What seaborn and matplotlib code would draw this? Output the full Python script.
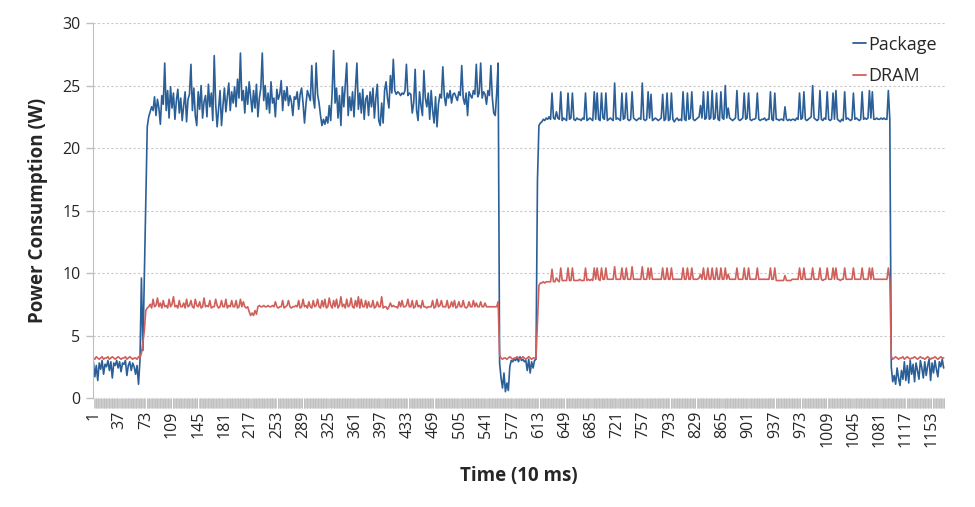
import numpy as np
import pandas as pd
import matplotlib
matplotlib.use('Agg')
import matplotlib.pyplot as plt
import seaborn as sns

# samples taken every 2nd time step (1, 3, 5, ... 1169)
pkg_idle = [2.9, 1.7, 2.6, 1.4, 2.8, 2.3, 3.0, 1.9, 2.7, 2.5, 3.0, 2.2, 2.9, 1.6, 2.8, 2.6, 3.0,
            2.4, 2.9, 2.1, 2.8, 2.7, 3.0, 1.8, 2.6, 2.9, 2.2, 2.8, 2.5, 1.9, 2.6, 1.1, 3.0]
pkg_ramp1 = [9.6, 3.8, 9.8, 15.7, 21.7]
pkg_run1 = [
    22.5, 22.9, 23.3, 23.0, 24.1, 22.6, 23.9, 23.2, 21.9, 24.2,
    23.5, 26.8, 23.0, 24.6, 22.4, 24.9, 23.2, 24.4, 22.3, 23.8,
    24.7, 22.8, 24.0, 22.2, 23.4, 24.5, 22.1, 23.9, 24.3, 26.7,
    23.0, 24.8, 22.6, 21.8, 24.5, 23.1, 25.0, 22.4, 23.7, 24.2,
    22.5, 25.1, 23.3, 24.4, 22.2, 27.4, 23.5, 21.7, 23.2, 24.6,
    21.8, 23.4, 24.8, 22.9, 24.1, 25.2, 23.0, 24.5, 23.6, 24.9,
    23.3, 25.5, 24.0, 27.6, 23.8, 24.6, 22.8, 24.9, 23.5, 25.3,
    24.1, 22.9, 24.6, 23.2, 25.1, 22.5, 24.0, 24.8, 27.6, 23.8,
    25.0, 23.1, 24.4, 22.8, 25.3, 23.6, 24.0, 22.5, 24.7, 23.9,
    24.3, 25.4, 23.0, 24.6, 23.8, 24.9, 23.4, 24.2, 23.7, 22.6,
    24.1, 23.9, 24.5, 23.1, 24.3, 24.8, 23.6, 22.0, 23.5, 24.6,
    24.2, 23.8, 26.6, 24.0, 23.2, 26.8, 24.3, 23.6, 22.6, 21.8,
    22.3, 21.9, 22.5, 22.0, 23.4, 22.2, 24.5, 27.8, 23.6, 24.8,
    22.4, 24.2, 21.8, 24.9, 23.3, 25.0, 26.8, 22.6, 24.1, 23.0,
    24.5, 22.5, 24.8, 26.8, 23.1, 24.4, 22.8, 24.7, 22.3, 23.9,
    24.2, 22.6, 24.5, 23.3, 24.8, 22.4, 24.0, 25.1, 22.2, 21.8,
    23.6, 22.0, 24.6, 25.3, 24.0, 23.2, 25.8, 24.4, 27.1, 24.6,
    24.3, 24.5, 24.4, 24.2, 24.4, 24.3, 24.6, 26.7, 24.2, 24.4,
    24.3, 22.8, 23.6, 26.3, 23.0, 22.2, 24.5, 23.4, 22.6, 26.2,
    24.0, 23.3, 24.4, 22.3, 24.6, 23.0, 22.0, 24.1, 21.7, 23.5,
    24.3, 24.0, 26.5, 24.2, 23.4, 24.4, 24.0, 24.6, 23.6, 24.3,
    24.4, 24.1, 23.8, 24.5, 24.2, 26.6, 24.0, 23.5, 24.4, 22.6,
    24.5, 24.2, 24.0, 24.6, 24.3, 26.7, 24.1, 24.4, 26.8, 24.0,
    24.5, 24.3, 23.5, 24.6, 24.2, 26.6, 24.0, 22.8, 22.6, 24.4,
    26.8]
pkg_gap = [2.8, 1.6, 0.8, 2.0, 0.5, 1.2, 0.6, 2.5, 3.0, 2.9, 3.1, 3.0, 3.2, 2.9, 3.3, 3.0,
           3.1, 2.9, 3.0, 2.2, 3.1, 2.0, 2.9, 2.4, 3.0, 3.1]
pkg_ramp2 = [17.4, 21.8]
pkg_run2 = [
    22.0, 22.1, 22.3, 22.2, 22.4, 22.3, 22.5, 22.3, 24.4, 22.4,
    22.3, 22.9, 22.4, 22.3, 24.5, 22.2, 22.4, 22.3, 22.2, 24.4,
    22.3, 22.4, 24.4, 22.3, 22.2, 22.4, 22.3, 22.3, 22.2, 22.4,
    22.3, 24.4, 22.2, 22.3, 22.4, 22.3, 22.2, 24.5, 22.3, 24.4,
    22.3, 22.2, 24.4, 22.4, 22.3, 24.4, 22.2, 22.3, 22.4, 22.3,
    22.2, 25.2, 22.3, 22.4, 22.3, 22.2, 24.4, 22.3, 22.4, 24.4,
    22.3, 22.2, 22.3, 24.5, 22.4, 22.3, 22.2, 22.3, 22.4, 22.3,
    25.2, 22.3, 22.2, 22.3, 24.5, 22.4, 24.3, 22.2, 22.3, 22.4,
    22.3, 22.2, 22.3, 22.4, 24.3, 22.2, 22.3, 24.4, 22.2, 22.3,
    24.4, 22.3, 22.1, 22.3, 22.4, 22.2, 22.3, 22.2, 24.5, 22.3,
    22.2, 24.4, 22.3, 22.4, 24.5, 22.3, 22.2, 22.3, 22.4, 22.5,
    23.4, 22.4, 24.5, 22.3, 22.4, 24.5, 22.3, 22.4, 24.6, 22.3,
    22.4, 24.4, 22.3, 22.2, 24.5, 22.4, 22.3, 25.0, 22.4, 23.2,
    22.4, 22.3, 22.2, 22.3, 22.4, 24.6, 22.3, 22.2, 22.3, 22.4,
    24.4, 22.3, 22.4, 24.4, 22.3, 22.2, 22.3, 22.3, 22.4, 24.4,
    22.3, 22.2, 22.3, 22.3, 22.4, 22.2, 22.3, 22.3, 24.5, 22.3,
    22.2, 24.4, 22.3, 22.3, 22.2, 22.3, 22.3, 22.2, 23.3, 22.3,
    22.2, 22.3, 22.2, 22.3, 22.3, 22.2, 22.4, 22.3, 24.4, 22.3,
    22.4, 24.5, 22.3, 22.2, 22.3, 22.4, 22.5, 25.0, 22.4, 22.3,
    22.2, 22.3, 24.6, 22.3, 22.2, 22.4, 22.3, 24.5, 22.3, 22.2,
    22.3, 24.4, 22.3, 24.6, 22.3, 22.2, 22.1, 22.3, 22.2, 24.5,
    22.3, 22.4, 22.3, 22.2, 22.3, 24.4, 22.3, 22.4, 22.3, 22.2,
    22.3, 24.5, 22.3, 22.4, 22.3, 22.4, 24.6, 22.4, 24.5, 22.3,
    22.3, 22.4, 22.3, 22.3, 22.4, 22.3, 22.4, 22.3, 22.3, 24.6,
    22.3]
pkg_end = [2.5, 1.3, 1.8, 1.1, 2.4, 1.6, 1.0, 2.2, 1.5, 2.9, 1.4, 2.6, 1.2, 3.0, 1.9, 2.7,
           1.3, 2.8, 2.2, 1.5, 3.0, 2.4, 1.6, 2.9, 1.8, 2.6, 3.1, 1.4, 2.8, 2.0, 3.0, 2.3,
           1.7, 2.9, 2.5, 3.1, 2.4]

dram_idle = [3.2, 3.1, 3.3, 3.2, 3.1, 3.2, 3.3, 3.1, 3.2, 3.2, 3.3, 3.1, 3.2, 3.3, 3.2, 3.1,
             3.2, 3.3, 3.2, 3.1, 3.2, 3.2, 3.3, 3.1, 3.2, 3.3, 3.2, 3.1, 3.2, 3.2, 3.1, 3.3, 3.2]
dram_ramp1 = [3.6, 4.4, 5.4, 7.0, 7.2]
dram_run1 = [
    7.3, 7.5, 7.2, 7.9, 7.3, 7.4, 8.0, 7.3, 7.6, 7.2,
    7.8, 7.3, 7.4, 7.2, 7.9, 7.3, 7.5, 8.1, 7.3, 7.4,
    7.2, 7.8, 7.3, 7.3, 7.6, 7.2, 7.9, 7.3, 7.4, 7.8,
    7.3, 7.2, 7.9, 7.4, 7.3, 7.7, 7.2, 7.3, 8.0, 7.3,
    7.4, 7.3, 7.8, 7.2, 7.3, 7.3, 7.9, 7.4, 7.2, 7.3,
    7.8, 7.3, 7.3, 7.9, 7.2, 7.4, 7.3, 7.8, 7.3, 7.3,
    7.8, 7.2, 7.3, 7.9, 7.3, 7.7, 7.3, 7.2, 7.3, 6.9,
    6.6, 6.8, 6.6, 7.0, 6.7, 7.3, 7.4, 7.3, 7.3, 7.4,
    7.3, 7.3, 7.4, 7.3, 7.3, 7.4, 7.3, 7.7, 7.3, 7.2,
    7.3, 7.3, 7.8, 7.2, 7.3, 7.4, 7.8, 7.3, 7.2, 7.3,
    7.3, 7.4, 7.3, 7.8, 7.2, 7.3, 7.9, 7.3, 7.4, 7.2,
    7.7, 7.3, 7.2, 7.8, 7.3, 7.4, 7.9, 7.3, 7.2, 7.8,
    7.3, 7.9, 7.2, 7.3, 8.0, 7.4, 7.2, 7.8, 7.3, 7.9,
    7.2, 7.4, 8.1, 7.3, 7.5, 7.2, 7.9, 7.3, 7.4, 8.0,
    7.3, 7.2, 7.8, 7.3, 8.1, 7.2, 7.9, 7.3, 7.3, 7.8,
    7.2, 7.7, 7.3, 7.3, 7.8, 7.2, 7.3, 7.7, 7.3, 7.3,
    8.1, 7.2, 7.3, 7.3, 7.1, 7.3, 7.6, 7.3, 7.4, 7.3,
    7.3, 7.2, 7.7, 7.3, 7.8, 7.3, 7.3, 7.4, 7.9, 7.3,
    7.3, 7.8, 7.2, 7.3, 7.8, 7.3, 7.4, 7.2, 7.8, 7.3,
    7.3, 7.2, 7.3, 7.3, 7.3, 7.8, 7.2, 7.3, 7.9, 7.3,
    7.4, 7.8, 7.3, 7.3, 7.3, 7.8, 7.2, 7.3, 7.7, 7.3,
    7.8, 7.2, 7.3, 7.7, 7.3, 7.3, 7.8, 7.3, 7.2, 7.3,
    7.7, 7.3, 7.3, 7.8, 7.3, 7.6, 7.3, 7.3, 7.7, 7.3,
    7.3, 7.6, 7.3, 7.3, 7.3, 7.3, 7.3, 7.3, 7.3, 7.3,
    7.7]
dram_gap = [3.4, 3.2, 3.1, 3.2, 3.2, 3.1, 3.2, 3.3, 3.2, 3.1, 3.2, 3.2, 3.3, 3.2, 3.1, 3.2,
            3.3, 3.2, 3.1, 3.2, 3.3, 3.2, 3.1, 3.2, 3.2, 3.2]
dram_ramp2 = [6.0, 9.0]
dram_run2 = [
    9.2, 9.2, 9.3, 9.2, 9.3, 9.3, 9.3, 9.3, 10.3, 9.3,
    9.3, 9.6, 9.4, 9.3, 10.4, 9.4, 9.4, 9.4, 9.4, 10.4,
    9.4, 9.4, 10.4, 9.4, 9.4, 9.4, 9.4, 9.5, 9.4, 9.4,
    9.4, 10.4, 9.4, 9.5, 9.4, 9.5, 9.4, 10.4, 9.5, 10.4,
    9.5, 9.4, 10.4, 9.5, 9.5, 10.4, 9.5, 9.5, 9.5, 9.5,
    9.5, 10.5, 9.5, 9.5, 9.5, 9.5, 10.4, 9.5, 9.5, 10.4,
    9.5, 9.5, 9.5, 10.5, 9.5, 9.5, 9.5, 9.5, 9.5, 9.5,
    10.5, 9.5, 9.5, 9.5, 10.4, 9.5, 10.4, 9.5, 9.5, 9.5,
    9.5, 9.5, 9.5, 9.5, 10.4, 9.5, 9.5, 10.4, 9.5, 9.5,
    10.4, 9.5, 9.5, 9.5, 9.5, 9.5, 9.5, 9.5, 10.4, 9.5,
    9.5, 10.4, 9.5, 9.5, 10.4, 9.5, 9.5, 9.5, 9.5, 9.6,
    9.9, 9.5, 10.4, 9.5, 9.5, 10.4, 9.5, 9.5, 10.4, 9.5,
    9.5, 10.4, 9.5, 9.5, 10.4, 9.5, 9.5, 10.4, 9.5, 9.9,
    9.5, 9.5, 9.5, 9.5, 9.5, 10.4, 9.5, 9.5, 9.5, 9.5,
    10.4, 9.5, 9.5, 10.4, 9.5, 9.5, 9.5, 9.5, 9.5, 10.4,
    9.5, 9.5, 9.5, 9.5, 9.5, 9.5, 9.5, 9.5, 10.4, 9.5,
    9.5, 10.4, 9.4, 9.4, 9.4, 9.4, 9.4, 9.4, 9.8, 9.4,
    9.4, 9.4, 9.4, 9.5, 9.5, 9.5, 9.5, 9.5, 10.4, 9.5,
    9.5, 10.4, 9.5, 9.5, 9.5, 9.5, 9.5, 10.4, 9.5, 9.5,
    9.5, 9.5, 10.4, 9.5, 9.4, 9.5, 9.5, 10.4, 9.5, 9.5,
    9.5, 10.4, 9.5, 10.4, 9.5, 9.5, 9.4, 9.5, 9.5, 10.4,
    9.5, 9.5, 9.5, 9.5, 9.5, 10.4, 9.5, 9.5, 9.5, 9.5,
    9.5, 10.4, 9.5, 9.5, 9.5, 9.5, 10.4, 9.5, 10.4, 9.5,
    9.5, 9.5, 9.5, 9.5, 9.5, 9.5, 9.5, 9.5, 9.5, 10.4,
    9.5]
dram_end = [3.3, 3.1, 3.2, 3.3, 3.2, 3.1, 3.2, 3.2, 3.3, 3.1, 3.2, 3.3, 3.2, 3.1, 3.2, 3.2,
            3.3, 3.2, 3.1, 3.2, 3.3, 3.2, 3.2, 3.1, 3.2, 3.3, 3.2, 3.1, 3.2, 3.2, 3.3, 3.2,
            3.1, 3.2, 3.3, 3.2, 3.2]

n_steps = 1170
tick_labels = list(range(1, n_steps, 36))

package = pkg_idle + pkg_ramp1 + pkg_run1 + pkg_gap + pkg_ramp2 + pkg_run2 + pkg_end
dram = dram_idle + dram_ramp1 + dram_run1 + dram_gap + dram_ramp2 + dram_run2 + dram_end
time = 1 + 2 * np.arange(len(package))

df = pd.DataFrame({'Time': time, 'Package': package, 'DRAM': dram})

sns.set_style('white')
plt.rcParams['font.family'] = ['Open Sans', 'DejaVu Sans']

fig = plt.figure(figsize=(9.75, 5.07), dpi=100)
ax = fig.add_axes([0.0954, 0.215, 0.8736, 0.7395])

sns.lineplot(data=df, x='Time', y='Package', ax=ax, color='#2b5f97', lw=1.2,
             estimator=None, label='Package')
sns.lineplot(data=df, x='Time', y='DRAM', ax=ax, color='#d0605c', lw=1.2,
             estimator=None, label='DRAM')

ax.set_xlim(0.5, n_steps + 0.5)
ax.set_ylim(0, 30)
ax.set_yticks(range(0, 31, 5))
ax.set_xticks(tick_labels)
ax.set_xticklabels([str(t) for t in tick_labels], rotation=90, fontsize=11.5)
# one small grey tick per time step, as in the original category axis
ax.set_xticks(np.arange(1, n_steps + 1), minor=True)
ax.tick_params(axis='x', which='major', bottom=True, length=0, pad=9)
ax.tick_params(axis='x', which='minor', bottom=True, length=7, width=0.55,
               color='#bdbdbd', direction='out')
ax.tick_params(axis='y', left=True, labelsize=11.5, length=5, color='#bfbfbf', width=1,
               direction='out', pad=4)

ax.yaxis.grid(True, linestyle=(0, (2, 2)), color='#c8c8c8', lw=0.8)
ax.set_axisbelow(True)
for s in ['top', 'right', 'bottom']:
    ax.spines[s].set_visible(False)
ax.spines['left'].set_color('#bfbfbf')

ax.set_xlabel('Time (10 ms)', fontsize=13.5, fontweight='bold', labelpad=14)
ax.set_ylabel('Power Consumption (W)', fontsize=13.5, fontweight='bold', labelpad=10)

leg = ax.legend(loc='upper right', frameon=False, fontsize=13, handlelength=0.7,
                handletextpad=0.15, labelspacing=0.75, bbox_to_anchor=(1.01, 1.01))
for line in leg.get_lines():
    line.set_linewidth(1.3)

fig.savefig('out.png', dpi=100)
